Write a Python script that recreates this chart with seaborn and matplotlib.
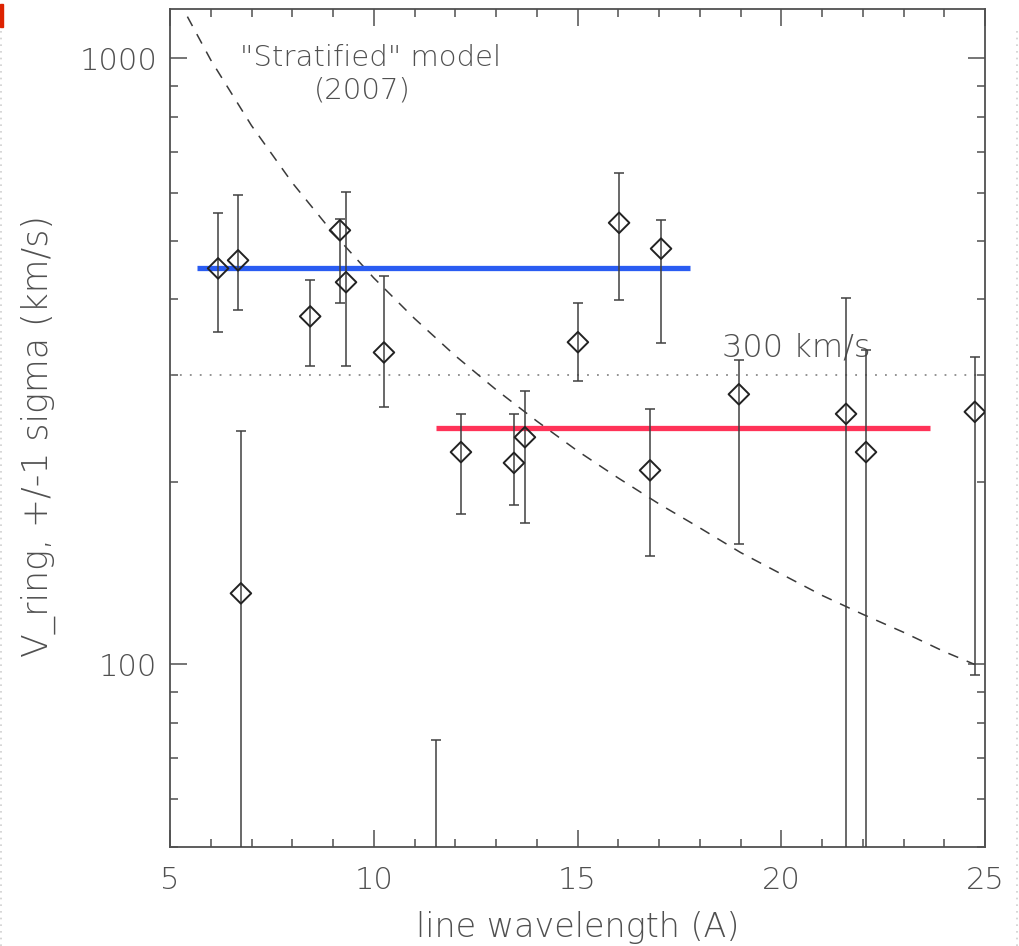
import numpy as np
import pandas as pd
import matplotlib
matplotlib.use("Agg")
import matplotlib.pyplot as plt
from matplotlib.lines import Line2D
from matplotlib.patches import Rectangle
from matplotlib.ticker import FixedLocator, FuncFormatter, MultipleLocator
import seaborn as sns

# Measured ring velocities per emission line (km/s) with +/- 1 sigma bounds
wavelength = [6.18, 6.67, 6.74, 8.44, 9.17, 9.32, 10.25, 11.53, 12.14, 13.44,
              13.71, 15.01, 16.02, 16.78, 17.05, 18.96, 21.59, 22.08, 24.75]
v_ring = [450, 464, 131, 375, 520, 427, 327, 40, 224, 215,
          237, 340, 535, 209, 485, 279, 259, 224, 261]
v_upper = [555, 594, 243, 431, 542, 601, 438, 75, 259, 259,
           283, 394, 646, 264, 541, 318, 402, 330, 322]
v_lower = [353, 384, 20, 311, 394, 311, 266, 20, 177, 183,
           171, 293, 399, 151, 339, 158, 20, 20, 96]

# "Stratified" model velocity curve
model_wavelength = [5.0, 5.3, 6, 7, 8, 9, 10, 11, 12, 13, 14, 15, 16, 17,
                    18, 19, 20, 21, 22, 23, 24, 24.75]
model_v = [1334, 1214, 993, 774, 623, 515, 434, 372, 323, 284, 252, 225, 203,
           184, 168, 153, 141, 130, 121, 113, 105, 100]

# Group averages: short-wavelength and long-wavelength lines
short_span = [5.66, 17.76]
short_mean = 450
long_span = [11.53, 23.65]
long_mean = 245
reference_v = 300

x_ticks = [5, 10, 15, 20, 25]
y_major = [100, 1000]
y_minor = [50, 60, 70, 80, 90, 200, 300, 400, 500, 600, 700, 800, 900]

sns.set_theme(style="ticks")
plt.rcParams["font.family"] = ["DejaVu Sans"]
plt.rcParams["font.weight"] = "light"
plt.rcParams["axes.labelweight"] = "light"

GREY = "#505050"
fig = plt.figure(figsize=(10.2, 9.46), dpi=100)
ax = fig.add_axes([170 / 1020, 1 - 847 / 946, 815 / 1020, 838 / 946])

ax.set_yscale("log")
ax.set_xlim(5, 25)
ax.set_ylim(50, 1205)

# reference level
ax.axhline(reference_v, color="#8a8a8a", lw=1.3, ls=(0, (1, 4.5)), zorder=1)

# model curve
model = pd.DataFrame({"wl": model_wavelength, "v": model_v})
sns.lineplot(data=model, x="wl", y="v", ax=ax, sort=False, estimator=None,
             color="#3a3a3a", lw=1.1, dashes=False, zorder=2)
ax.lines[-1].set_dashes((7, 6))

# group averages
ax.plot(short_span, [short_mean, short_mean], color="#2a5cf2", lw=3.8,
        solid_capstyle="butt", zorder=3)
ax.plot(long_span, [long_mean, long_mean], color="#ff3358", lw=3.8,
        solid_capstyle="butt", zorder=3)

# error bars and diamonds
v = np.array(v_ring, dtype=float)
yerr = np.vstack([v - np.array(v_lower), np.array(v_upper) - v])
ax.errorbar(wavelength, v, yerr=yerr, fmt="none", ecolor="#404040",
            elinewidth=1.1, capsize=3.5, capthick=1.1, zorder=4)
pts = pd.DataFrame({"wl": wavelength, "v": v_ring})
sns.scatterplot(data=pts, x="wl", y="v", ax=ax, marker="D", s=110,
                facecolor="none", edgecolor="#222222", linewidth=1.4,
                zorder=5)

# annotations
ax.text(9.91, 1000, '"Stratified" model', ha="center", va="center",
        fontsize=21, color=GREY)
ax.text(9.71, 885, "(2007)", ha="center", va="center", fontsize=21,
        color=GREY)
ax.text(18.55, 333, "300 km/s", ha="left", va="center", fontsize=23,
        color=GREY)

# axes styling
ax.xaxis.set_major_locator(FixedLocator(x_ticks))
ax.xaxis.set_minor_locator(MultipleLocator(1))
ax.yaxis.set_major_locator(FixedLocator(y_major))
ax.yaxis.set_minor_locator(FixedLocator(y_minor))
ax.yaxis.set_major_formatter(FuncFormatter(lambda val, pos: f"{val:.0f}"))
ax.yaxis.set_minor_formatter(FuncFormatter(lambda val, pos: ""))
ax.tick_params(which="both", direction="in", top=True, right=True,
               color=GREY, width=1.1, labelcolor=GREY, labelsize=22)
ax.tick_params(which="major", length=12)
ax.tick_params(which="minor", length=6)
ax.tick_params(axis="x", which="major", pad=14)
ax.tick_params(axis="y", which="major", pad=9)
for sp in ax.spines.values():
    sp.set_color(GREY)
    sp.set_linewidth(1.3)

ax.set_xlabel("line wavelength (A)", fontsize=24, color=GREY,
              fontweight="light")
ax.set_ylabel("V_ring, +/-1 sigma (km/s)", fontsize=25, color=GREY,
              fontweight="light")
ax.xaxis.label.set_va("center")
ax.xaxis.set_label_coords(0.5, -0.0955)
ax.yaxis.label.set_va("center")
ax.yaxis.set_label_coords(-0.162, 0.49)

# page edge marks
fig.add_artist(Rectangle((0, 1 - 27 / 946), 3 / 1020, 23 / 946,
                         color="#dd2200", transform=fig.transFigure))
for xe in (1.5 / 1020, 1017.5 / 1020):
    fig.add_artist(Line2D([xe, xe], [0, 1 - 30 / 946], color="#cfcfcf",
                          lw=1.2, ls=(0, (1, 3)), transform=fig.transFigure))

fig.savefig("out.png", dpi=100)
